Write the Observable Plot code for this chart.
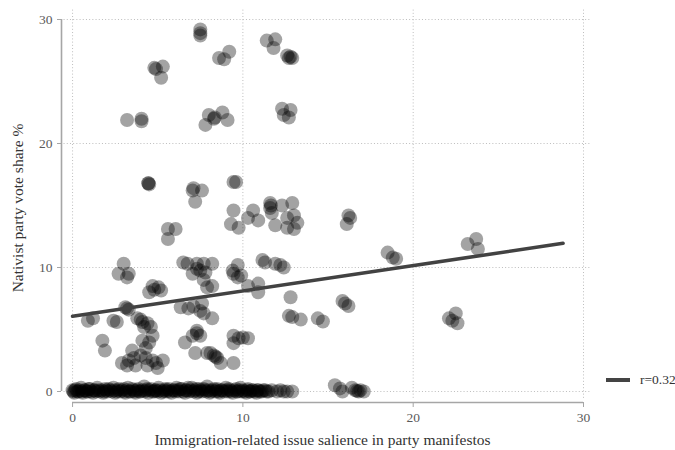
<!DOCTYPE html>
<html>
<head>
<meta charset="utf-8">
<script src="https://cdn.jsdelivr.net/npm/d3@7"></script>
<script src="https://cdn.jsdelivr.net/npm/@observablehq/plot@0.6"></script>
<style>
  body { margin: 0; background: #fff; }
  #wrap { position: relative; width: 675px; height: 450px; font-family: "Liberation Serif", "DejaVu Serif", serif; }
  #legend { position: absolute; left: 606px; top: 372px; display: flex; align-items: center; font-size: 13.5px; color: #333; }
  #legend .swatch { width: 24px; height: 4px; background: #444; margin-right: 10px; }
  #ytitle { position: absolute; left: 18px; top: 208px; transform: translate(-50%, -50%) rotate(-90deg);
            white-space: nowrap; font-size: 15.5px; color: #333; line-height: 1; }
</style>
</head>
<body>
<div id="wrap">
  <div id="ytitle"></div>
  <div id="legend"><span class="swatch"></span><span id="legend-text"></span></div>
</div>
<script>
// Party-election observations with a nonzero nativist vote share: [salience, vote share %]
const votedParties = [
  [7.5,29.2],[7.5,28.9],[7.5,28.7],
  [4.8,26.1],[4.9,26.0],[5.3,26.2],[5.2,25.3],
  [8.6,26.9],[8.9,26.8],[9.2,27.4],
  [11.4,28.3],[11.9,28.4],[11.8,27.7],
  [12.6,27.1],[12.7,26.9],[12.9,26.9],[12.8,27.0],
  [3.2,21.9],[4.05,22.0],[4.05,21.8],
  [7.8,21.5],[8.0,22.3],[8.3,22.0],[8.35,22.1],[8.8,22.5],[9.1,21.9],
  [12.3,22.8],[12.8,22.7],[12.4,22.3],[12.7,22.1],
  [4.45,16.8],[4.45,16.8],[4.5,16.7],
  [7.05,16.2],[7.1,16.4],[7.6,16.2],[7.2,15.3],
  [9.45,16.9],[9.6,16.9],
  [11.6,15.2],[11.6,14.8],[11.65,15.0],[12.3,15.0],[12.9,15.2],[11.7,14.4],
  [13.0,14.2],[12.6,14.0],[13.2,13.6],[11.9,13.4],[12.6,13.2],[13.0,13.1],
  [9.45,14.6],[10.6,14.6],[10.3,14.0],[10.9,13.8],[9.3,13.5],[9.75,13.2],
  [5.6,13.1],[6.05,13.1],[5.6,12.3],
  [3.0,10.3],[2.7,9.5],[3.3,9.5],[3.2,9.2],
  [4.7,8.5],[5.05,8.4],[4.5,8.0],[5.2,8.15],[4.8,8.2],
  [3.1,6.8],[3.3,6.6],[3.2,6.7],[2.4,5.7],[2.6,5.6],
  [0.9,5.7],[1.2,5.9],
  [3.8,5.9],[4.1,5.6],[4.4,5.5],[4.6,5.2],[4.2,5.2],[4.0,5.8],
  [1.75,4.1],[1.9,3.3],
  [4.1,4.1],[4.5,3.95],[4.7,4.5],[4.3,3.5],
  [3.5,3.3],[3.6,2.7],[3.3,2.5],[4.0,2.9],[4.3,2.7],[2.9,2.3],[3.2,2.1],[3.7,2.1],
  [4.7,2.5],[4.9,2.3],[5.3,2.5],[5.0,1.9],[4.4,2.1],
  [6.75,10.3],[7.05,9.5],[7.3,10.3],[7.5,9.75],[7.7,10.3],[8.2,10.3],[7.8,9.6],[7.3,9.9],[6.5,10.4],
  [7.7,9.0],[7.9,8.4],[8.2,8.5],[8.2,5.9],
  [6.35,6.8],[6.8,6.7],[7.1,6.85],[7.5,6.5],[7.7,6.3],[7.6,7.1],
  [7.3,4.9],[7.05,4.5],[7.5,4.5],[6.6,3.95],[7.2,3.1],[7.3,4.7],
  [7.9,3.1],[8.3,2.9],[8.5,2.7],[8.7,2.3],[9.45,2.3],[8.1,3.1],[8.4,2.8],
  [9.45,4.5],[9.75,4.3],[10.0,4.35],[10.3,4.3],[9.45,3.9],
  [9.45,9.5],[9.7,9.2],[9.9,9.35],[9.4,9.75],[9.7,10.2],
  [10.3,8.5],[10.9,8.7],[10.9,8.0],
  [11.15,10.6],[11.3,10.4],
  [11.9,10.3],[12.2,10.2],[12.4,10.0],
  [12.8,7.6],[12.7,6.1],[12.9,6.0],[13.4,5.8],
  [14.4,5.9],[14.7,5.65],
  [16.2,14.2],[16.3,14.0],[16.1,13.5],
  [18.5,11.2],[18.8,10.8],[19.0,10.7],
  [23.2,11.9],[23.7,12.3],[23.8,11.5],
  [15.85,7.3],[16.0,7.1],[16.2,6.9],
  [22.1,5.9],[22.5,6.3],[22.6,5.5],[22.3,5.7],
  [15.4,0.5],[15.7,0.25],[15.85,0.0],[16.4,0.3],[16.6,0.1],[16.8,0.0],[17.1,0.0],[16.7,0.05],[16.9,0.1]
];

// Observations where no nativist party won votes: [salience, vote share %]
const zeroShareParties = [
  [0.0,0.1],[0.05,0.0],[0.1,-0.1],[0.15,0.1],[0.2,0.2],[0.28,0.0],[0.35,0.0],[0.42,0.1],
  [0.5,0.3],[0.55,0.0],[0.6,-0.1],[0.68,0.1],[0.75,0.1],[0.82,0.0],[0.9,0.0],[0.95,0.2],
  [1.0,0.2],[1.1,0.0],[1.2,-0.1],[1.25,0.1],[1.3,0.1],[1.38,0.0],[1.45,0.3],[1.52,0.1],
  [1.6,0.0],[1.7,0.1],[1.8,-0.1],[1.85,0.0],[1.9,0.2],[1.98,0.1],[2.05,0.0],[2.12,0.2],
  [2.2,0.1],[2.3,0.0],[2.4,0.3],[2.45,0.1],[2.5,-0.1],[2.58,0.0],[2.65,0.1],[2.72,0.2],
  [2.8,0.0],[2.9,0.1],[3.0,0.2],[3.05,0.0],[3.1,-0.1],[3.18,0.1],[3.25,0.3],[3.32,0.0],
  [3.4,0.0],[3.5,0.2],[3.6,0.1],[3.65,0.0],[3.7,-0.1],[3.78,0.1],[3.85,0.2],[3.92,0.0],
  [4.0,0.0],[4.1,0.1],[4.2,0.4],[4.25,0.0],[4.3,0.1],[4.38,0.2],[4.45,-0.1],[4.52,0.1],
  [4.6,0.2],[4.7,0.0],[4.8,0.0],[4.85,0.1],[4.9,0.1],[4.98,0.0],[5.05,0.3],[5.12,0.1],
  [5.2,-0.1],[5.3,0.0],[5.4,0.1],[5.45,0.2],[5.5,0.0],[5.58,0.1],[5.65,0.2],[5.72,0.0],
  [5.8,-0.1],[5.9,0.1],[6.0,0.1],[6.05,0.0],[6.1,0.3],[6.18,0.1],[6.25,0.0],[6.32,0.2],
  [6.4,0.2],[6.5,0.0],[6.6,-0.1],[6.65,0.1],[6.7,0.1],[6.78,0.3],[6.85,0.0],[6.92,0.1],
  [7.0,0.3],[7.1,0.0],[7.2,0.1],[7.25,0.2],[7.3,-0.1],[7.38,0.0],[7.45,0.2],[7.52,0.1],
  [7.6,0.0],[7.7,0.2],[7.8,0.1],[7.85,0.0],[7.9,0.4],[7.98,0.1],[8.05,-0.1],[8.12,0.0],
  [8.2,0.1],[8.3,0.2],[8.4,0.0],[8.45,0.1],[8.5,0.2],[8.58,0.0],[8.65,-0.1],[8.72,0.1],
  [8.8,0.1],[8.9,0.0],[9.0,0.3],[9.05,0.1],[9.1,0.0],[9.18,0.2],[9.25,0.1],[9.32,0.0],
  [9.4,-0.1],[9.5,0.1],[9.6,0.2],[9.65,0.0],[9.7,0.0],[9.78,0.1],[9.85,0.3],[9.92,0.0],
  [10.0,0.1],[10.1,0.0],[10.2,-0.1],[10.25,0.1],[10.3,0.2],[10.38,0.0],[10.45,0.0],[10.52,0.1],
  [10.6,0.1],[10.7,0.0],[10.8,-0.1],[10.85,0.1],[10.9,0.1],[11.0,0.0],[11.1,0.0],[11.2,0.1],
  [11.3,0.1],[11.4,0.0],[11.5,0.0],[11.7,0.1],
  [12.0,0.0],[12.2,0.1],[12.4,0.0],[12.6,0.0],[12.9,0.0]
];

// Linear fit endpoints (vote share on salience)
const fitSalience = [0, 28.8];
const fitShare = [6.07, 11.95];

const xTicks = [0, 10, 20, 30];
const yTicks = [0, 10, 20, 30];
const xTitle = "Immigration-related issue salience in party manifestos";
const yTitle = "Nativist party vote share %";
const legendLabel = "r=0.32";

const points = [...zeroShareParties, ...votedParties].map(([x, y]) => ({x, y}));
const fitLine = fitSalience.map((x, i) => ({x, y: fitShare[i]}));

const xMin = -0.65, yMin = -0.887;
const serif = "'Liberation Serif', 'DejaVu Serif', serif";

const chart = Plot.plot({
  width: 675,
  height: 450,
  marginLeft: 61,
  marginRight: 92,
  marginTop: 19,
  marginBottom: 48,
  style: {fontFamily: serif, background: "#fff"},
  x: {domain: [xMin, 30]},
  y: {domain: [yMin, 30]},
  marks: [
    // dotted grid
    Plot.ruleY(yTicks, {x1: -0.5, x2: 30.5, stroke: "#bdbdbd", strokeDasharray: "1,2.2", strokeWidth: 1}),
    Plot.ruleX(xTicks, {y1: -0.55, y2: 30.9, stroke: "#bdbdbd", strokeDasharray: "1,2.2", strokeWidth: 1}),
    // axis lines, offset from the data region
    Plot.ruleX([xMin], {y1: 0, y2: 30, stroke: "#a6a6a6", strokeWidth: 1.6}),
    Plot.ruleY([yMin], {x1: 0, x2: 30, stroke: "#a6a6a6", strokeWidth: 1.6}),
    Plot.axisX({ticks: xTicks, tickSize: 5, tickPadding: 5, fontSize: 13.5, color: "#5a5a5a", stroke: "#a6a6a6", label: null}),
    Plot.axisY({ticks: yTicks, tickSize: 4, tickPadding: 5, fontSize: 13.5, color: "#5a5a5a", stroke: "#a6a6a6", label: null}),
    // x-axis title
    Plot.text([xTitle], {frameAnchor: "bottom", dy: 42, text: d => d, fontSize: 15.5, fill: "#333", fontFamily: serif}),
    Plot.dot(points, {x: "x", y: "y", r: 7, fill: "#000", fillOpacity: 0.36, stroke: "none"}),
    Plot.line(fitLine, {x: "x", y: "y", stroke: "#424242", strokeWidth: 3.6})
  ]
});

document.getElementById("wrap").prepend(chart);
document.getElementById("ytitle").textContent = yTitle;
document.getElementById("legend-text").textContent = legendLabel;
</script>
</body>
</html>
